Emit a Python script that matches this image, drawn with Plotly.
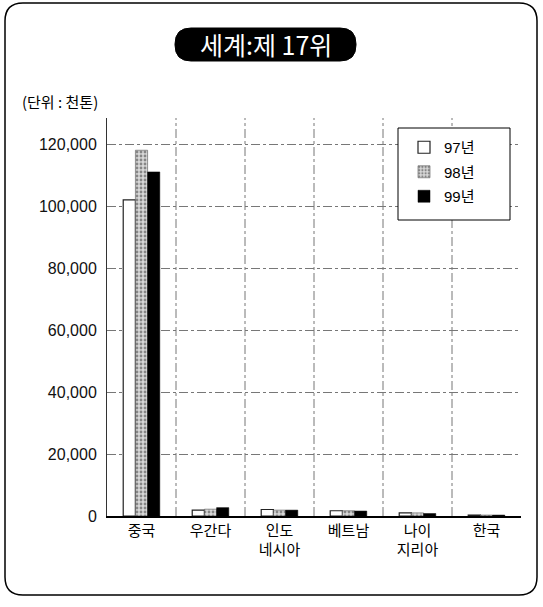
import plotly.graph_objects as go

categories = ["중국", "우간다", "인도<br>네시아", "베트남", "나이<br>지리아", "한국"]
years = ["97년", "98년", "99년"]
v97 = [102000, 1900, 2100, 1700, 1000, 300]
v98 = [118000, 2200, 1900, 1700, 1000, 300]
v99 = [111000, 2700, 1900, 1600, 800, 300]
yticks = [0, 20000, 40000, 60000, 80000, 100000, 120000]
ytick_text = ["0", "20,000", "40,000", "60,000", "80,000", "100,000", "120,000"]

W, H = 543, 607
L, R, T, B = 107, 22, 118, 91
PW, PH = W - L - R, H - T - B

def px(x):
    return (x - L) / PW

def py(y):
    return (H - B - y) / PH

def rounded(x0, y0, x1, y1, r):
    rx = r / PW
    ry = r / PH
    X0, X1 = px(x0), px(x1)
    Y0, Y1 = py(y0), py(y1)
    return (f"M {X0+rx} {Y0} L {X1-rx} {Y0} Q {X1} {Y0} {X1} {Y0-ry} "
            f"L {X1} {Y1+ry} Q {X1} {Y1} {X1-rx} {Y1} L {X0+rx} {Y1} "
            f"Q {X0} {Y1} {X0} {Y1+ry} L {X0} {Y0-ry} Q {X0} {Y0} {X0+rx} {Y0} Z")

font = "Noto Sans CJK KR"
fig = go.Figure()
fig.add_trace(go.Bar(name=years[0], x=categories, y=v97, legendgroup="a",
                     marker=dict(color="white", line=dict(color="#222", width=1.2))))
fig.add_trace(go.Bar(name=years[1], x=categories, y=v98, legendgroup="b",
                     marker=dict(color="#bdbdbd", line=dict(color="#555", width=0.6),
                                 pattern=dict(shape=".", fgcolor="#333", bgcolor="#d8d8d8", size=4, solidity=0.4))))
fig.add_trace(go.Bar(name=years[2], x=categories, y=v99, legendgroup="c",
                     marker=dict(color="black", line=dict(color="black", width=0.5))))

shapes = []
for i in range(len(categories) - 1):
    shapes.append(dict(type="line", xref="x", yref="paper", x0=i + 0.5, x1=i + 0.5, y0=0, y1=1,
                       line=dict(color="#777", width=1, dash="dashdot"), layer="below"))
shapes.append(dict(type="path", xref="paper", yref="paper", path=rounded(5, 3, 537, 595, 18),
                   line=dict(color="black", width=1.5), fillcolor="rgba(0,0,0,0)"))
shapes.append(dict(type="path", xref="paper", yref="paper", path=rounded(175, 28, 356, 61, 16),
                   line=dict(color="black", width=1), fillcolor="black"))
shapes.append(dict(type="rect", xref="paper", yref="paper", x0=px(398), x1=px(510), y0=py(128), y1=py(220),
                   line=dict(color="black", width=1), fillcolor="white", layer="above"))

fig.update_layout(
    width=W, height=H,
    margin=dict(l=L, r=R, t=T, b=B),
    paper_bgcolor="white", plot_bgcolor="white",
    barmode="group", bargap=0.47, bargroupgap=0.0,
    font=dict(family=font, color="black", size=14),
    shapes=shapes,
    showlegend=True,
    legend=dict(x=px(404), y=py(131), xanchor="left", yanchor="top",
                bgcolor="rgba(0,0,0,0)", borderwidth=0,
                font=dict(family="Liberation Sans, " + font, size=15),
                itemwidth=30, tracegroupgap=2, traceorder="grouped"),
    annotations=[
        dict(text="세계:제 17위", xref="paper", yref="paper", x=px(266), y=py(44.5),
             xanchor="center", yanchor="middle", showarrow=False,
             font=dict(family=font, size=25, color="white")),
        dict(text="(단위 : 천톤)", xref="paper", yref="paper", x=px(20), y=py(101),
             xanchor="left", yanchor="middle", showarrow=False,
             font=dict(family=font, size=15, color="black")),
    ],
    xaxis=dict(showgrid=False, showline=True, linecolor="black", linewidth=1.5,
               ticks="", tickfont=dict(family=font, size=15), range=[-0.5, 5.5]),
    yaxis=dict(range=[0, 128400], tickvals=yticks, ticktext=ytick_text,
               showgrid=True, gridcolor="#777", griddash="dashdot", gridwidth=1,
               showline=True, linecolor="#333", linewidth=1,
               ticks="", ticklabelstandoff=6, tickfont=dict(family="Liberation Sans, Arial", size=16, color="#111"),
               zeroline=False),
)

fig.write_html("out.html", config={"displayModeBar": False},
               post_script="document.body.style.margin='0';")
